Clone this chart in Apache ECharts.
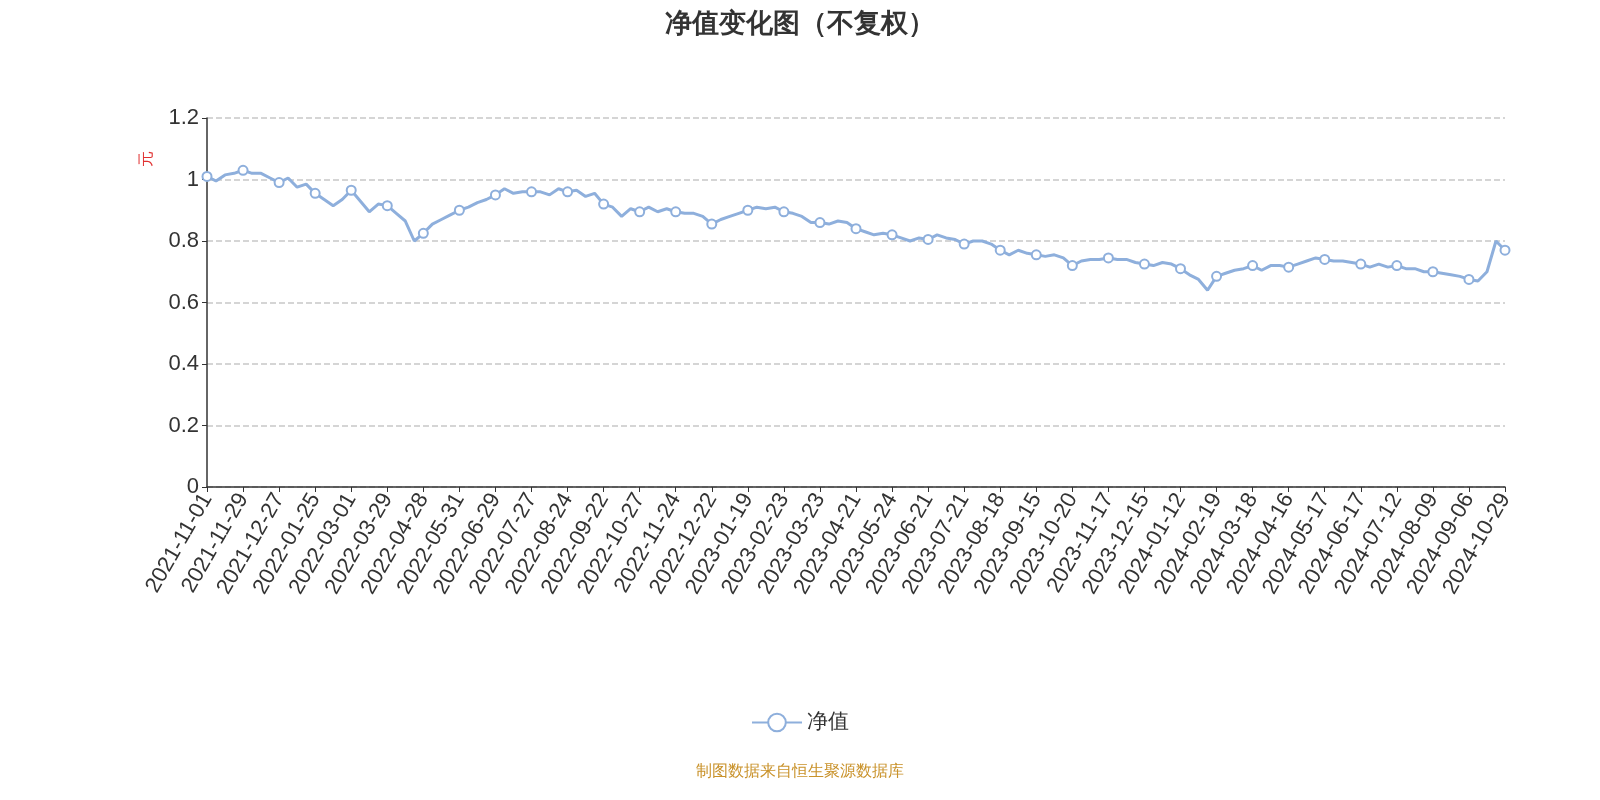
<!DOCTYPE html>
<html><head><meta charset="utf-8">
<script src="https://cdn.jsdelivr.net/npm/echarts@6/dist/echarts.min.js"></script>
<style>html,body{margin:0;padding:0;background:#fff}#c{width:1600px;height:800px}</style>
</head><body><div id="c"></div>
<script>
const labelDates = ["2021-11-01","2021-11-29","2021-12-27","2022-01-25","2022-03-01","2022-03-29","2022-04-28","2022-05-31","2022-06-29","2022-07-27","2022-08-24","2022-09-22","2022-10-27","2022-11-24","2022-12-22","2023-01-19","2023-02-23","2023-03-23","2023-04-21","2023-05-24","2023-06-21","2023-07-21","2023-08-18","2023-09-15","2023-10-20","2023-11-17","2023-12-15","2024-01-12","2024-02-19","2024-03-18","2024-04-16","2024-05-17","2024-06-17","2024-07-12","2024-08-09","2024-09-06","2024-10-29"];
// net value, 4 samples per label interval (first of each group sits on the label date)
const values = [
1.01,0.995,1.015,1.02,
1.03,1.02,1.02,1.005,
0.99,1.005,0.975,0.985,
0.955,0.935,0.915,0.935,
0.965,0.93,0.895,0.92,
0.915,0.89,0.865,0.80,
0.825,0.855,0.87,0.885,
0.90,0.91,0.925,0.935,
0.95,0.97,0.955,0.96,
0.96,0.96,0.95,0.97,
0.96,0.965,0.945,0.955,
0.92,0.91,0.88,0.905,
0.895,0.91,0.895,0.905,
0.895,0.89,0.89,0.88,
0.855,0.87,0.88,0.89,
0.90,0.91,0.905,0.91,
0.895,0.89,0.88,0.86,
0.86,0.855,0.865,0.86,
0.84,0.83,0.82,0.825,
0.82,0.81,0.80,0.81,
0.805,0.82,0.81,0.805,
0.79,0.80,0.80,0.79,
0.77,0.755,0.77,0.76,
0.755,0.75,0.755,0.745,
0.72,0.735,0.74,0.74,
0.745,0.74,0.74,0.73,
0.725,0.72,0.73,0.725,
0.71,0.69,0.675,0.64,
0.685,0.695,0.705,0.71,
0.72,0.705,0.72,0.72,
0.715,0.725,0.735,0.745,
0.74,0.735,0.735,0.73,
0.725,0.715,0.725,0.715,
0.72,0.71,0.71,0.70,
0.70,0.695,0.69,0.685,
0.675,0.67,0.70,0.80,
0.77];
const STEP = 4;
const cats = [];
for (let i = 0; i < labelDates.length; i++) {
  cats.push(labelDates[i]);
  if (i < labelDates.length - 1) {
    const a = new Date(labelDates[i] + "T00:00:00Z").getTime(), b = new Date(labelDates[i+1] + "T00:00:00Z").getTime();
    for (let k = 1; k < STEP; k++) cats.push(new Date(a + (b - a) * k / STEP).toISOString().slice(0, 10));
  }
}
const chart = echarts.init(document.getElementById('c'));
chart.setOption({
  animation: false,
  title: { text: '净值变化图（不复权）', left: 'center', top: 6, textStyle: { fontSize: 27, fontWeight: 'bold', color: '#333' } },
  grid: { left: 207, right: 95, top: 118, bottom: 313 },
  legend: { bottom: 62, itemWidth: 50, itemHeight: 22, textStyle: { fontSize: 21, color: '#333' }, data: ['净值'] },
  graphic: [
    { type: 'text', left: 'center', top: 764, style: { text: '制图数据来自恒生聚源数据库', fill: '#c9922a', fontSize: 16 } },
    { type: 'text', x: 139, y: 167, rotation: Math.PI / 2, style: { text: '元', fill: '#e03030', fontSize: 16 } }
  ],
  xAxis: {
    type: 'category', data: cats, boundaryGap: false,
    axisLine: { lineStyle: { color: '#333', width: 1.5 } },
    axisTick: { interval: (i) => i % STEP === 0, lineStyle: { color: '#333' } },
    axisLabel: { interval: (i) => i % STEP === 0, rotate: 60, fontSize: 22, color: '#333', margin: 8 }
  },
  yAxis: {
    type: 'value', min: 0, max: 1.2, interval: 0.2,
    axisLine: { show: true, lineStyle: { color: '#333', width: 1.5 } },
    axisTick: { show: true, lineStyle: { color: '#333' } },
    axisLabel: { fontSize: 22, color: '#333', formatter: (v) => String(+v.toFixed(1)) },
    splitLine: { lineStyle: { type: 'dashed', color: '#c8c8c8', width: 1.5 } }
  },
  series: [{
    name: '净值', type: 'line', data: values,
    symbol: 'circle', showAllSymbol: true,
    symbolSize: (v, p) => (p.dataIndex % STEP === 0 ? 9 : 0),
    itemStyle: { color: '#fff', borderColor: '#8eafdc', borderWidth: 2 },
    lineStyle: { color: '#8eafdc', width: 3 }
  }]
});
</script></body></html>
